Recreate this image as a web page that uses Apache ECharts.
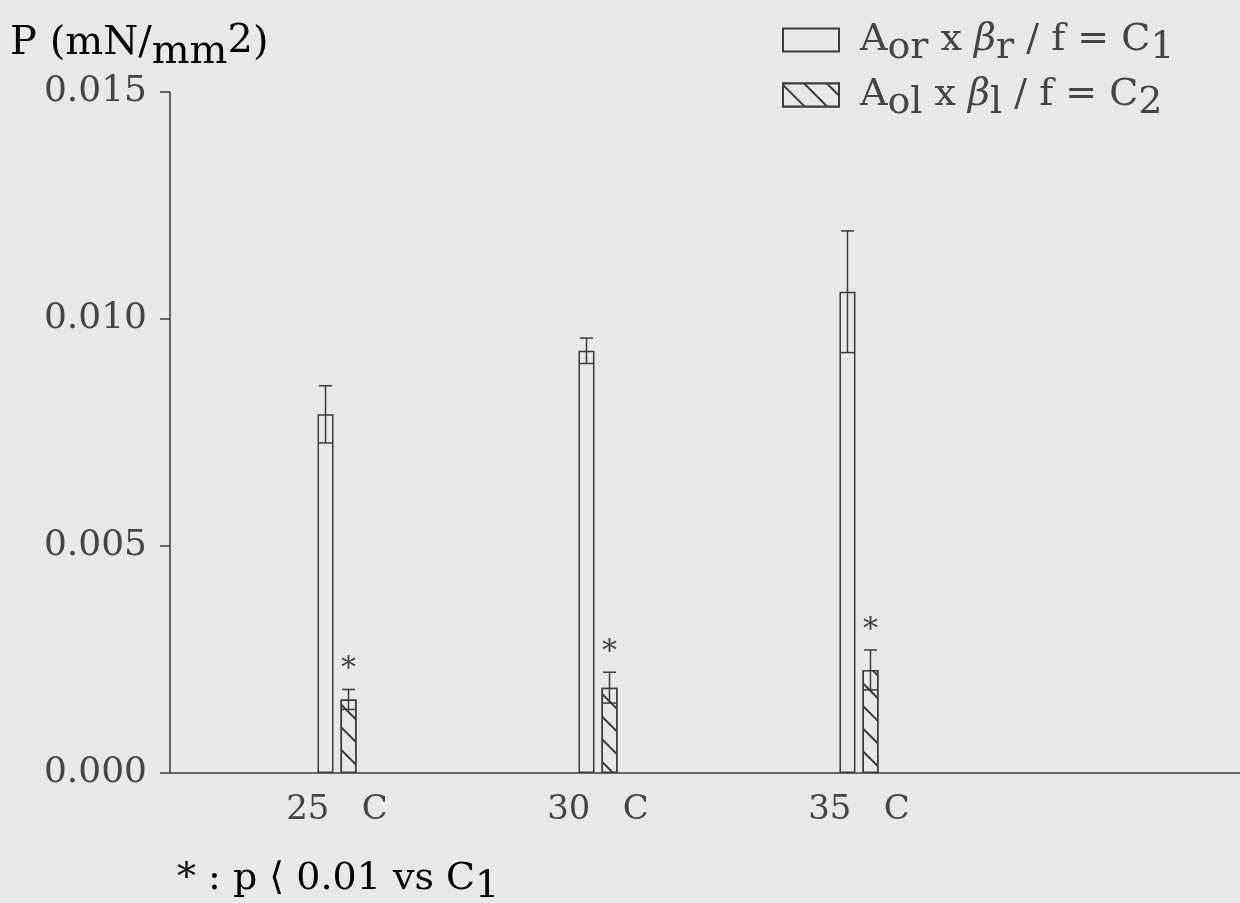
<!DOCTYPE html>
<html>
<head>
<meta charset="utf-8">
<script src="https://cdn.jsdelivr.net/npm/echarts@6/dist/echarts.min.js"></script>
<style>
html,body{margin:0;padding:0;background:#e8e8e8;}
#chart{width:1240px;height:903px;}
</style>
</head>
<body>
<div id="chart"></div>
<script>
// ---- data ----
const categories = [25, 30, 35];                 // temperature (C)
const c1Mean = [0.0079, 0.0093, 0.0106];         // Aor x βr / f = C1
const c1Err  = [0.00063, 0.00028, 0.00134];
const c2Mean = [0.00162, 0.00188, 0.00227];      // Aol x βl / f = C2
const c2Err  = [0.00022, 0.00034, 0.00044];
const c2Significant = [1, 1, 1];                 // * : p < 0.01 vs C1
const yTicks = [0, 0.005, 0.010, 0.015];
const xLabelSuffix = '   C';

// ---- style ----
const FONT = 'DejaVu Serif';
const INK = '#3a3a3a';
const TXT = '#444';
const BG = '#e8e8e8';
const BAR_W = 16;
const HALF_OFF = 11.5;

function makeRich(fs, drop, lead, top, sup) {
  top = top || 0;
  sup = sup == null ? 5 : sup;
  const base = {fontFamily: FONT, fontSize: fs, color: TXT, lineHeight: fs + 2, verticalAlign: 'bottom'};
  return {
    f: Object.assign({}, base, {padding: [top, 0, drop, lead]}),
    n: Object.assign({}, base, {padding: [top, 0, drop, 0]}),
    s: Object.assign({}, base, {padding: [0, 0, 0, 0]}),
    b: Object.assign({}, base, {fontStyle: 'italic', padding: [top, 0, drop, 0]}),
    u: Object.assign({}, base, {padding: [0, 0, drop + sup, 0]})
  };
}

// legend rich: normal text centred on the icon, subscripts pushed down
function legendRich(fs, drop, lead) {
  const base = {fontFamily: FONT, fontSize: fs, color: TXT, lineHeight: fs + 2};
  return {
    f: Object.assign({}, base, {verticalAlign: 'middle', padding: [0, 0, 0, lead]}),
    n: Object.assign({}, base, {verticalAlign: 'middle'}),
    b: Object.assign({}, base, {verticalAlign: 'middle', fontStyle: 'italic'}),
    s: Object.assign({}, base, {verticalAlign: 'top', padding: [drop, 0, 0, 0]})
  };
}

const legendText = {
  C1: '{f|A}{s|or}{n| x }{b|β}{s|r}{n| / f = C}{s|1}',
  C2: '{f|A}{s|ol}{n| x }{b|β}{s|l}{n| / f = C}{s|2}'
};

const hatch = {
  symbol: 'rect', symbolSize: 1,
  dashArrayX: [1, 0], dashArrayY: [2, 14],
  rotation: Math.PI / 4,
  color: INK, backgroundColor: BG
};

function errRenderer(offset, withStar) {
  return function (params, api) {
    const x = api.value(0), m = api.value(1), e = api.value(2);
    const t = api.coord([x, m + e]);
    const b = api.coord([x, m - e]);
    const cx = t[0] + offset;
    const hw = 6.5;
    const ls = {stroke: INK, lineWidth: 1.5};
    const children = [
      {type: 'line', shape: {x1: cx, y1: t[1], x2: cx, y2: b[1]}, style: ls},
      {type: 'line', shape: {x1: cx - hw, y1: t[1], x2: cx + hw, y2: t[1]}, style: ls},
      {type: 'line', shape: {x1: cx - hw, y1: b[1], x2: cx + hw, y2: b[1]}, style: ls}
    ];
    if (withStar && api.value(3)) {
      children.push({type: 'text', x: cx, y: t[1] - 20,
        style: {text: '*', fontFamily: FONT, fontSize: 30, fill: TXT, align: 'center', verticalAlign: 'middle'}});
    }
    return {type: 'group', children: children};
  };
}

const chart = echarts.init(document.getElementById('chart'));
chart.setOption({
  backgroundColor: BG,
  animation: false,
  grid: {left: 170, right: 0, top: 92, bottom: 130, containLabel: false},
  legend: {
    orient: 'vertical', left: 782, top: 20, padding: 0,
    itemWidth: 56, itemHeight: 23, itemGap: 8, icon: 'rect',
    data: ['C1', 'C2'],
    formatter: name => legendText[name],
    textStyle: {rich: legendRich(38, 9, 16), fontFamily: FONT, fontSize: 38, color: TXT}
  },
  xAxis: {
    type: 'value', min: 21.8, max: 42.3,
    axisLine: {show: true, lineStyle: {color: INK, width: 1.5}},
    axisTick: {show: false},
    splitLine: {show: false},
    axisLabel: {
      customValues: categories, margin: 20,
      fontFamily: FONT, fontSize: 34, color: TXT,
      formatter: v => v + xLabelSuffix
    }
  },
  yAxis: {
    type: 'value', min: 0, max: 0.015, interval: 0.005,
    axisLine: {show: true, lineStyle: {color: INK, width: 1.5}},
    axisTick: {show: true, inside: false, length: 10, lineStyle: {color: INK, width: 1.5}},
    splitLine: {show: false},
    axisLabel: {
      margin: 23, fontFamily: FONT, fontSize: 36, color: TXT,
      formatter: v => v.toFixed(3)
    }
  },
  series: [
    {
      name: 'C1', type: 'bar', barWidth: BAR_W, barGap: '44%',
      itemStyle: {color: BG, borderColor: INK, borderWidth: 1.5},
      data: categories.map((c, i) => [c, c1Mean[i]])
    },
    {
      name: 'C2', type: 'bar', barWidth: BAR_W, barGap: '44%',
      itemStyle: {color: BG, borderColor: INK, borderWidth: 1.5, decal: hatch},
      data: categories.map((c, i) => [c, c2Mean[i]])
    },
    {
      type: 'custom', z: 5, silent: true,
      renderItem: errRenderer(-HALF_OFF, false),
      data: categories.map((c, i) => [c, c1Mean[i], c1Err[i], 0])
    },
    {
      type: 'custom', z: 5, silent: true,
      renderItem: errRenderer(HALF_OFF, true),
      data: categories.map((c, i) => [c, c2Mean[i], c2Err[i], c2Significant[i]])
    }
  ],
  graphic: [
    {
      type: 'text', left: 10, top: 22,
      style: {text: '{n|P (mN/}{s|mm}{u|2}{n|)}', rich: makeRich(40, 9, 0, 0, 2)}
    },
    {
      type: 'text', left: 177, top: 860,
      style: {text: '{n|* : p ⟨ 0.01 vs C}{s|1}', rich: makeRich(38, 8, 0)}
    }
  ]
});
</script>
</body>
</html>
